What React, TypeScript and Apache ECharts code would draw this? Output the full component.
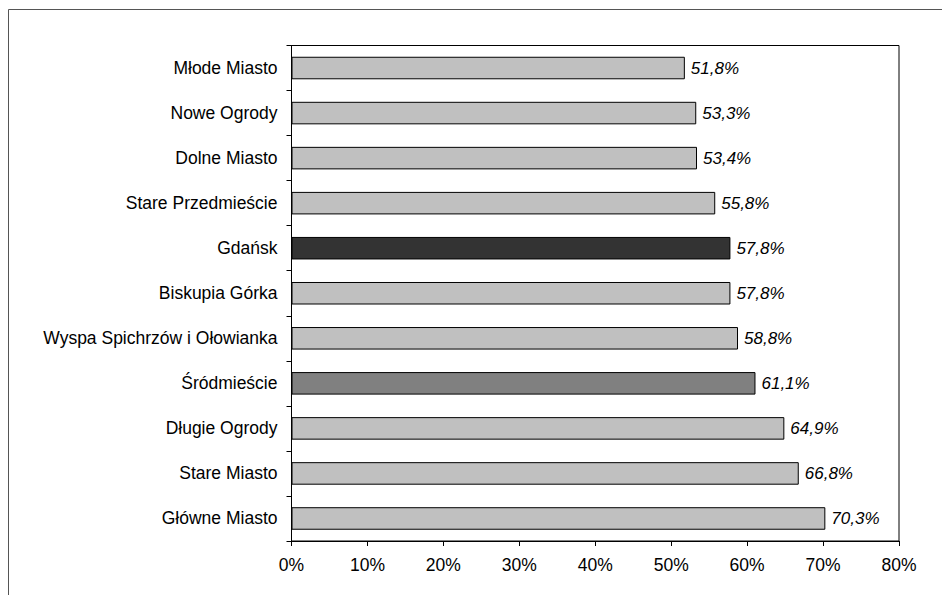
import React, { useEffect, useRef } from "react";
import * as echarts from "echarts";

const categories = [
  "Młode Miasto",
  "Nowe Ogrody",
  "Dolne Miasto",
  "Stare Przedmieście",
  "Gdańsk",
  "Biskupia Górka",
  "Wyspa Spichrzów i Ołowianka",
  "Śródmieście",
  "Długie Ogrody",
  "Stare Miasto",
  "Główne Miasto",
];
const values = [51.8, 53.3, 53.4, 55.8, 57.8, 57.8, 58.8, 61.1, 64.9, 66.8, 70.3];
const barColors = [
  "#C0C0C0", "#C0C0C0", "#C0C0C0", "#C0C0C0", "#333333", "#C0C0C0",
  "#C0C0C0", "#808080", "#C0C0C0", "#C0C0C0", "#C0C0C0",
];
const xMin = 0;
const xMax = 80;
const xStep = 10;

export default function App() {
  const ref = useRef<HTMLDivElement>(null);
  useEffect(() => {
    if (!ref.current) return;
    const chart = echarts.init(ref.current, undefined, { renderer: "svg" });
    const font = "Arial, 'Liberation Sans', sans-serif";
    chart.setOption({
      animation: false,
      backgroundColor: "#ffffff",
      graphic: [
        {
          type: "rect",
          shape: { x: 8.5, y: 9.5, width: 950, height: 600 },
          style: { fill: "none", stroke: "#555555", lineWidth: 1 },
          silent: true,
        },
      ],
      grid: {
        left: 291.5,
        top: 45.5,
        right: 43,
        bottom: 54,
        show: true,
        borderColor: "#000000",
        borderWidth: 1,
        backgroundColor: "transparent",
      },
      xAxis: {
        type: "value",
        min: xMin,
        max: xMax,
        interval: xStep,
        axisLine: { show: true, lineStyle: { color: "#000", width: 1 } },
        axisTick: { show: true, length: 5, lineStyle: { color: "#000" } },
        splitLine: { show: false },
        axisLabel: {
          formatter: "{value}%",
          color: "#000",
          fontSize: 17.5,
          fontFamily: font,
          margin: 15,
        },
      },
      yAxis: {
        type: "category",
        data: categories,
        inverse: true,
        axisLine: { show: true, lineStyle: { color: "#000", width: 1 } },
        axisTick: { show: true, length: 5, lineStyle: { color: "#000" } },
        axisLabel: {
          color: "#000",
          fontSize: 17.5,
          fontFamily: font,
          margin: 14,
        },
      },
      series: [
        {
          type: "bar",
          barWidth: "50%",
          data: values.map((v, i) => ({
            value: v,
            itemStyle: { color: barColors[i] },
          })),
          itemStyle: { borderColor: "#000", borderWidth: 1 },
          label: {
            show: true,
            position: "right",
            distance: 6,
            color: "#000",
            fontSize: 17,
            fontStyle: "italic",
            fontFamily: font,
            formatter: (p: any) => p.value.toFixed(1).replace(".", ",") + "%",
          },
        },
      ],
    });
    return () => chart.dispose();
  }, []);
  return (
    <div
      ref={ref}
      style={{ position: "fixed", left: 0, top: 0, width: 942, height: 595 }}
    />
  );
}
